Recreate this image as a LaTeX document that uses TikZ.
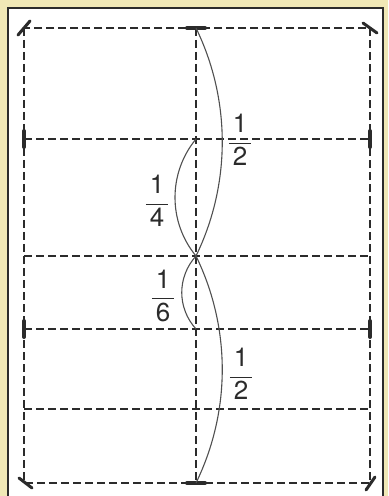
\documentclass[tikz,border=0pt]{standalone}
\usepackage{amsmath}
\usepackage{fontspec}
\setmainfont{TeX Gyre Heros}

\definecolor{papier}{HTML}{F0E8B6}
\definecolor{encre}{HTML}{2B2B2B}
\definecolor{trait}{HTML}{505050}

\tikzset{
  pli/.style={encre, line width=0.75pt, dash pattern=on 3.8pt off 2.2pt},
  arc/.style={trait, line width=0.55pt},
  repere/.style={encre, line width=2pt, line cap=round},
  coin/.style={encre, line width=1.5pt, line cap=round},
  fraction/.style={text=encre, font=\fontsize{13}{15}\selectfont, inner sep=0pt},
}

\newcommand{\frc}[2]{$\dfrac{\,\text{#1}\,}{\,\text{#2}\,}$}

\begin{document}
\begin{tikzpicture}[x=0.5pt,y=-0.5pt]
\useasboundingbox (0,0) rectangle (388,496);

% Feuille
\fill[papier] (0,0) rectangle (388,496);
\fill[white] (8,8) rectangle (383,496);
\draw[encre, line width=0.8pt] (8,496) -- (8,8) -- (383,8) -- (383,496);

% Points
\coordinate (hg) at (24,28);
\coordinate (hd) at (370,28);
\coordinate (bg) at (24,483);
\coordinate (bd) at (370,483);
\coordinate (hc) at (196,28);
\coordinate (bc) at (196,483);
\coordinate (mil) at (196,256);
\coordinate (q1) at (196,139);
\coordinate (q3) at (196,329);

% Plis
\draw[pli] (hg) rectangle (bd);
\draw[pli] (hc) -- (bc);
\foreach \y in {139,256,329,409}
{
    \draw[pli] (24,\y) -- (370,\y);
}

% Reperes
\draw[repere] (hc) ++(-9,0) -- ++(18,0);
\draw[repere] (bc) ++(-9,0) -- ++(18,0);
\foreach \y in {139,329}
{
    \draw[repere] (24,\y) ++(0,-8) -- ++(0,16);
    \draw[repere] (370,\y) ++(0,-8) -- ++(0,16);
}

% Coins
\draw[coin] (hg) ++(-6,7) -- ++(12,-14);
\draw[coin] (hd) ++(-7,-5) -- ++(14,10);
\draw[coin] (bg) ++(-5,-5) -- ++(13,10);
\draw[coin] (bd) ++(-4,7) -- ++(9,-13);

% Arcs
\draw[arc] (hc) .. controls (231,100) and (231,184) .. (mil);
\draw[arc] (mil) .. controls (231,328) and (231,411) .. (bc);
\draw[arc] (q1) .. controls (168,173) and (168,222) .. (mil);
\draw[arc] (mil) .. controls (177,277) and (177,308) .. (q3);

% Fractions
\node[fraction] (demihaut) at (240,140) {\frc{1}{2}};
\node[fraction] (quart) at (157,201) {\frc{1}{4}};
\node[fraction] (sixieme) at (163,296) {\frc{1}{6}};
\node[fraction] (demibas) at (241,374) {\frc{1}{2}};

\end{tikzpicture}
\end{document}
